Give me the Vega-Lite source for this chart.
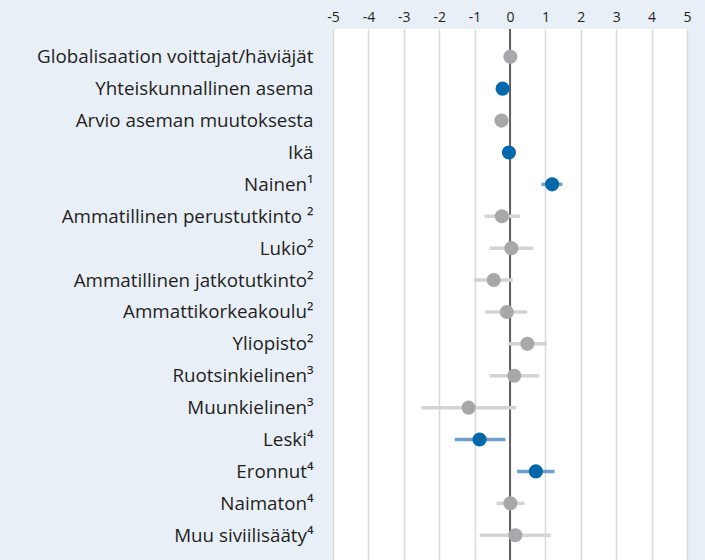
{
  "$schema": "https://vega.github.io/schema/vega-lite/v6.json",
  "width": 354,
  "height": 534,
  "autosize": {"type": "none"},
  "padding": {"left": 333, "top": 29, "right": 18, "bottom": 0},
  "background": "#e9eff7",
  "config": {
    "view": {"fill": "white", "stroke": null},
    "font": "Open Sans",
    "axisX": {
      "orient": "top",
      "values": [-5, -4, -3, -2, -1, 0, 1, 2, 3, 4, 5],
      "labelOverlap": false,
      "labelFlush": false,
      "ticks": false,
      "domain": false,
      "grid": true,
      "gridColor": "#d9d9d9",
      "gridWidth": 1.5,
      "labelFontSize": 14,
      "labelColor": "#231f20",
      "labelPadding": 5
    }
  },
  "data": {
    "values": [
      {"label": "Globalisaation voittajat/häviäjät", "est": 0.01, "lo": -0.03, "hi": 0.05, "sig": "no"},
      {"label": "Yhteiskunnallinen asema", "est": -0.21, "lo": -0.27, "hi": -0.15, "sig": "yes"},
      {"label": "Arvio aseman muutoksesta", "est": -0.24, "lo": -0.43, "hi": -0.05, "sig": "no"},
      {"label": "Ikä", "est": -0.03, "lo": -0.06, "hi": 0.0, "sig": "yes"},
      {"label": "Nainen¹", "est": 1.19, "lo": 0.89, "hi": 1.48, "sig": "yes"},
      {"label": "Ammatillinen perustutkinto ²", "est": -0.23, "lo": -0.72, "hi": 0.28, "sig": "no"},
      {"label": "Lukio²", "est": 0.04, "lo": -0.57, "hi": 0.66, "sig": "no"},
      {"label": "Ammatillinen jatkotutkinto²", "est": -0.46, "lo": -1.02, "hi": 0.08, "sig": "no"},
      {"label": "Ammattikorkeakoulu²", "est": -0.09, "lo": -0.70, "hi": 0.49, "sig": "no"},
      {"label": "Yliopisto²", "est": 0.49, "lo": -0.04, "hi": 1.04, "sig": "no"},
      {"label": "Ruotsinkielinen³", "est": 0.12, "lo": -0.57, "hi": 0.83, "sig": "no"},
      {"label": "Muunkielinen³", "est": -1.17, "lo": -2.50, "hi": 0.18, "sig": "no"},
      {"label": "Leski⁴", "est": -0.86, "lo": -1.56, "hi": -0.13, "sig": "yes"},
      {"label": "Eronnut⁴", "est": 0.73, "lo": 0.20, "hi": 1.26, "sig": "yes"},
      {"label": "Naimaton⁴", "est": 0.01, "lo": -0.38, "hi": 0.41, "sig": "no"},
      {"label": "Muu siviilisääty⁴", "est": 0.15, "lo": -0.86, "hi": 1.15, "sig": "no"}
    ]
  },
  "encoding": {
    "y": {
      "field": "label",
      "type": "nominal",
      "sort": null,
      "scale": {"type": "point", "padding": 0.87},
      "axis": {
        "title": null,
        "ticks": false,
        "domain": false,
        "grid": false,
        "labelFontSize": 18.8,
        "labelColor": "#231f20",
        "labelPadding": 20,
        "labelLimit": 0
      }
    }
  },
  "layer": [
    {
      "mark": {"type": "rule", "color": "#1a1a1a", "strokeWidth": 1.3},
      "data": {"values": [{"zero": 0}]},
      "encoding": {
        "y": null,
        "x": {
          "field": "zero",
          "type": "quantitative",
          "scale": {"domain": [-5, 5], "nice": false, "zero": false},
          "axis": {"title": null, "labelExpr": "datum.value + ''"}
        }
      }
    },
    {
      "mark": {"type": "rule", "strokeWidth": 3.5},
      "encoding": {
        "x": {"field": "lo", "type": "quantitative", "axis": {"title": null, "labelExpr": "datum.value + ''"}},
        "x2": {"field": "hi"},
        "color": {
          "field": "sig",
          "type": "nominal",
          "scale": {"domain": ["yes", "no"], "range": ["#6d9fd1", "#d4d4d4"]},
          "legend": null
        }
      }
    },
    {
      "mark": {"type": "circle", "size": 200, "opacity": 1},
      "encoding": {
        "x": {"field": "est", "type": "quantitative", "axis": {"title": null, "labelExpr": "datum.value + ''"}},
        "color": {
          "field": "sig",
          "type": "nominal",
          "scale": {"domain": ["yes", "no"], "range": ["#0068ab", "#a8a8ab"]},
          "legend": null
        }
      }
    }
  ],
  "resolve": {"scale": {"color": "independent"}}
}
